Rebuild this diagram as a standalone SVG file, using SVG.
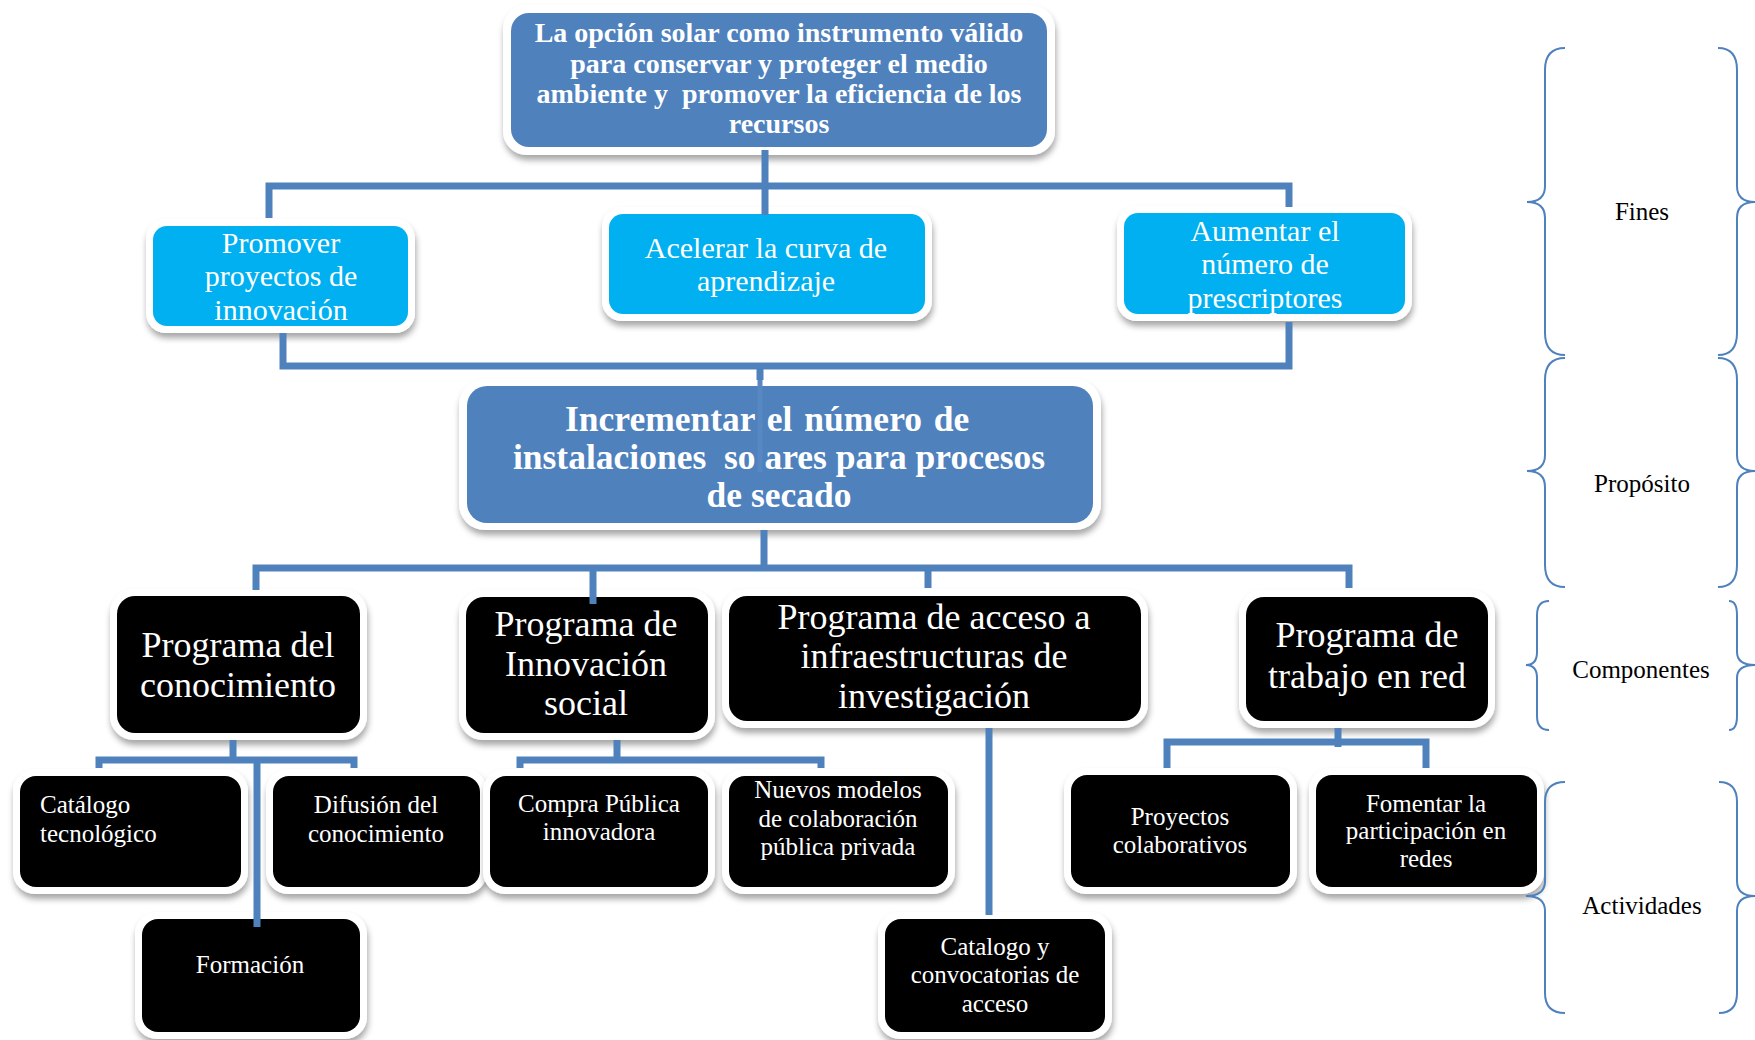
<svg xmlns="http://www.w3.org/2000/svg" width="1755" height="1040" viewBox="0 0 1755 1040">
<defs>
<filter id="sh" x="-10%" y="-10%" width="120%" height="130%">
<feDropShadow dx="1" dy="5" stdDeviation="3" flood-color="#000" flood-opacity="0.35"/>
</filter>
</defs>
<style>
.o{fill:#fff;filter:url(#sh)}
.b{fill:#4F81BD}
.c{fill:#00B0F0}
.k{fill:#000}
text{font-family:"Liberation Serif","Times New Roman",serif;fill:#fff;text-anchor:middle}
.t1{font-size:28px;font-weight:bold}
.t2{font-size:35.5px;font-weight:bold}
.tc{font-size:30px}
.tk{font-size:36px}
.ta{font-size:25px}
.lab{font-size:25px;fill:#000}
.con{fill:none;stroke:#4F81BD;stroke-width:7}
.br{fill:none;stroke:#4F81BD;stroke-width:2}
</style>
<rect width="1755" height="1040" fill="#fff"/>

<g id="top">
<rect class="o" x="503" y="5" width="552" height="150" rx="24"/>
<rect class="b" x="511" y="13" width="536" height="134" rx="18"/>
<text class="t1" x="779" y="42">La opción solar como instrumento válido</text>
<text class="t1" x="779" y="73">para conservar y proteger el medio</text>
<text class="t1" x="779" y="103" xml:space="preserve">ambiente y  promover la eficiencia de los</text>
<text class="t1" x="779" y="133">recursos</text>
</g>

<g id="fin1">
<rect class="o" x="146" y="219" width="269" height="114" rx="20"/>
<rect class="c" x="153" y="226" width="255" height="100" rx="14"/>
<text class="tc" x="281" y="253">Promover</text>
<text class="tc" x="281" y="286">proyectos de</text>
<text class="tc" x="281" y="320">innovación</text>
</g>

<g id="fin2">
<rect class="o" x="602" y="207" width="330" height="114" rx="20"/>
<rect class="c" x="609" y="214" width="316" height="100" rx="14"/>
<text class="tc" x="766" y="258">Acelerar la curva de</text>
<text class="tc" x="766" y="291">aprendizaje</text>
</g>

<g id="fin3">
<rect class="o" x="1117" y="206" width="295" height="115" rx="20"/>
<rect class="c" x="1124" y="213" width="281" height="101" rx="14"/>
<text class="tc" x="1265" y="241">Aumentar el</text>
<text class="tc" x="1265" y="274">número de</text>
<text class="tc" x="1265" y="308">prescriptores</text>
</g>

<g id="proposito">
<rect class="o" x="459" y="379" width="642" height="151" rx="26"/>
<rect class="b" x="467" y="386" width="626" height="137" rx="20"/>
<text class="t2" x="565" y="431" style="text-anchor:start;word-spacing:3px">Incrementar el número de</text>
<text class="t2" x="779" y="469" xml:space="preserve">instalaciones  so ares para procesos</text>
<text class="t2" x="779" y="507">de secado</text>
</g>

<g id="comp1">
<rect class="o" x="110" y="589" width="257" height="151" rx="24"/>
<rect class="k" x="117" y="596" width="243" height="137" rx="18"/>
<text class="tk" x="238" y="657">Programa del</text>
<text class="tk" x="238" y="697">conocimiento</text>
</g>

<g id="comp2">
<rect class="o" x="459" y="590" width="256" height="150" rx="24"/>
<rect class="k" x="466" y="597" width="242" height="136" rx="18"/>
<text class="tk" x="586" y="636">Programa de</text>
<text class="tk" x="586" y="676">Innovación</text>
<text class="tk" x="586" y="715">social</text>
</g>

<g id="comp3">
<rect class="o" x="722" y="589" width="426" height="139" rx="24"/>
<rect class="k" x="729" y="596" width="412" height="125" rx="18"/>
<text class="tk" x="934" y="629">Programa de acceso a</text>
<text class="tk" x="934" y="668">infraestructuras de</text>
<text class="tk" x="934" y="708">investigación</text>
</g>

<g id="comp4">
<rect class="o" x="1239" y="590" width="256" height="138" rx="24"/>
<rect class="k" x="1246" y="597" width="242" height="124" rx="18"/>
<text class="tk" x="1367" y="647">Programa de</text>
<text class="tk" x="1367" y="688">trabajo en red</text>
</g>

<g id="act-catalogo">
<rect class="o" x="13" y="769" width="235" height="125" rx="22"/>
<rect class="k" x="20" y="776" width="221" height="111" rx="16"/>
<text class="ta" x="40" y="813" style="text-anchor:start">Catálogo</text>
<text class="ta" x="40" y="842" style="text-anchor:start">tecnológico</text>
</g>

<g id="act-difusion">
<rect class="o" x="266" y="769" width="221" height="125" rx="22"/>
<rect class="k" x="273" y="776" width="207" height="111" rx="16"/>
<text class="ta" x="376" y="813">Difusión del</text>
<text class="ta" x="376" y="842">conocimiento</text>
</g>

<g id="act-formacion">
<rect class="o" x="135" y="912" width="232" height="127" rx="22"/>
<rect class="k" x="142" y="919" width="218" height="113" rx="16"/>
<text class="ta" x="250" y="973">Formación</text>
</g>

<g id="act-compra">
<rect class="o" x="483" y="769" width="232" height="125" rx="22"/>
<rect class="k" x="490" y="776" width="218" height="111" rx="16"/>
<text class="ta" x="599" y="812">Compra Pública</text>
<text class="ta" x="599" y="840">innovadora</text>
</g>

<g id="act-nuevos">
<rect class="o" x="722" y="769" width="233" height="125" rx="22"/>
<rect class="k" x="729" y="776" width="219" height="111" rx="16"/>
<text class="ta" x="838" y="798">Nuevos modelos</text>
<text class="ta" x="838" y="827">de colaboración</text>
<text class="ta" x="838" y="855">pública privada</text>
</g>

<g id="act-convocatorias">
<rect class="o" x="878" y="912" width="234" height="127" rx="22"/>
<rect class="k" x="885" y="919" width="220" height="113" rx="16"/>
<text class="ta" x="995" y="955">Catalogo y</text>
<text class="ta" x="995" y="983">convocatorias de</text>
<text class="ta" x="995" y="1012">acceso</text>
</g>

<g id="act-proyectos">
<rect class="o" x="1064" y="768" width="233" height="126" rx="22"/>
<rect class="k" x="1071" y="775" width="219" height="112" rx="16"/>
<text class="ta" x="1180" y="825">Proyectos</text>
<text class="ta" x="1180" y="853">colaborativos</text>
</g>

<g id="act-fomentar">
<rect class="o" x="1309" y="768" width="235" height="126" rx="22"/>
<rect class="k" x="1316" y="775" width="221" height="112" rx="16"/>
<text class="ta" x="1426" y="812">Fomentar la</text>
<text class="ta" x="1426" y="839">participación en</text>
<text class="ta" x="1426" y="867">redes</text>
</g>

<g id="connectors">
<path class="con" d="M765,150 V215"/>
<path class="con" d="M269,218 V186 H1289 V207"/>
<path class="con" d="M283,333 V366 H1289 V322"/>
<path class="con" d="M760,366 V380"/>
<path d="M760,380 V472" fill="none" stroke="#5788C3" stroke-width="5"/>
<path class="con" d="M764,530 V568"/>
<path class="con" d="M256,590 V568 H1349 V588"/>
<path class="con" d="M593,568 V604"/>
<path class="con" d="M928,568 V588"/>
<path class="con" d="M233,740 V760"/>
<path class="con" d="M99,768 V760 H354 V768"/>
<path class="con" d="M257,760 V927"/>
<path class="con" d="M617,740 V760"/>
<path class="con" d="M520,768 V760 H821 V768"/>
<path class="con" d="M989,728 V915"/>
<path class="con" d="M1338,728 V747"/>
<path class="con" d="M1167,768 V742 H1426 V768"/>
</g>

<g id="braces">
<path class="br" d="M1565,48 Q1545,48 1545,70 V186 Q1545,202 1527,202 Q1545,202 1545,218 V333 Q1545,355 1565,355"/>
<path class="br" d="M1718,48 Q1737,48 1737,70 V186 Q1737,202 1755,202 Q1737,202 1737,218 V333 Q1737,355 1718,355"/>
<path class="br" d="M1565,358 Q1545,358 1545,380 V455 Q1545,471 1527,471 Q1545,471 1545,487 V565 Q1545,587 1565,587"/>
<path class="br" d="M1718,358 Q1737,358 1737,380 V455 Q1737,471 1755,471 Q1737,471 1737,487 V565 Q1737,587 1718,587"/>
<path class="br" d="M1549,601 Q1537,601 1537,615 V652 Q1537,665 1526,665 Q1537,665 1537,678 V716 Q1537,730 1549,730"/>
<path class="br" d="M1729,601 Q1737,601 1737,615 V652 Q1737,665 1755,665 Q1737,665 1737,678 V716 Q1737,730 1729,730"/>
<path class="br" d="M1565,782 Q1545,782 1545,802 V881 Q1545,896 1526,896 Q1545,896 1545,911 V993 Q1545,1013 1565,1013"/>
<path class="br" d="M1719,782 Q1737,782 1737,802 V881 Q1737,896 1755,896 Q1737,896 1737,911 V993 Q1737,1013 1719,1013"/>
</g>

<g id="labels">
<text class="lab" x="1642" y="220">Fines</text>
<text class="lab" x="1642" y="492">Propósito</text>
<text class="lab" x="1641" y="678">Componentes</text>
<text class="lab" x="1642" y="914">Actividades</text>
</g>
</svg>
